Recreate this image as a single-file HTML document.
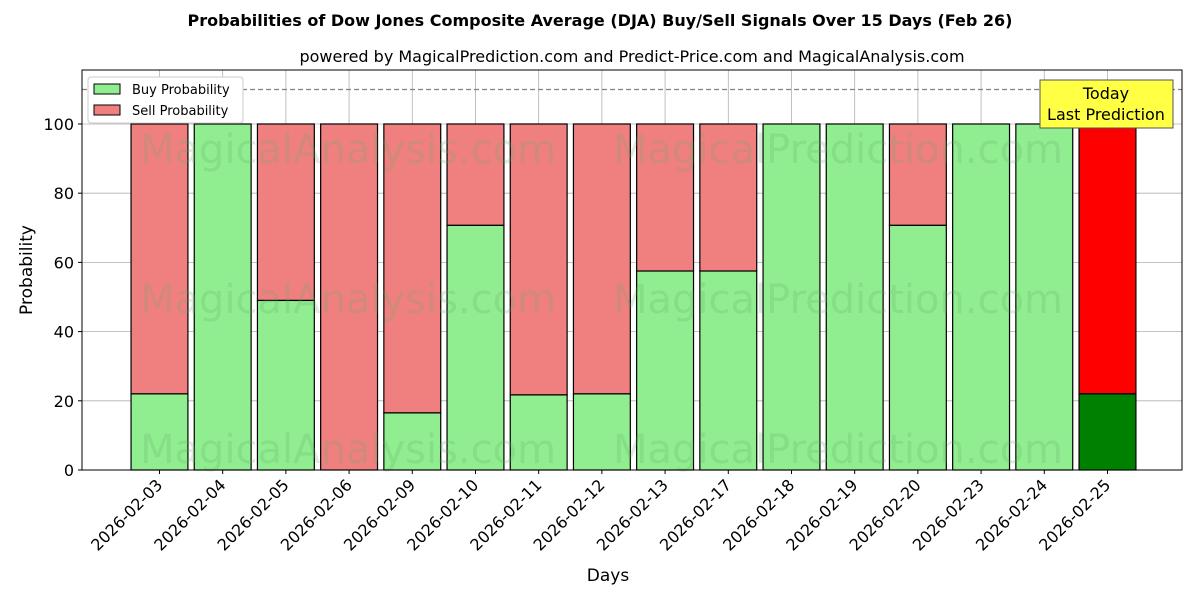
<!DOCTYPE html>
<html><head><meta charset="utf-8"><style>
body{margin:0;background:#fff;}
svg text{font-family:"DejaVu Sans","Liberation Sans",sans-serif;}
</style></head><body>
<svg id="chart" width="1200" height="600" xmlns="http://www.w3.org/2000/svg">
<text x="600" y="26" text-anchor="middle" font-size="16" font-weight="bold">Probabilities of Dow Jones Composite Average (DJA) Buy/Sell Signals Over 15 Days (Feb 26)</text>
<text x="632" y="62" text-anchor="middle" font-size="16">powered by MagicalPrediction.com and Predict-Price.com and MagicalAnalysis.com</text>
<g id="grid"></g>
<g id="bars"></g>
<g id="wm" fill="rgba(100,170,100,0.22)" font-size="40">
<text x="348" y="163" text-anchor="middle">MagicalAnalysis.com</text>
<text x="838" y="163" text-anchor="middle">MagicalPrediction.com</text>
<text x="348" y="313" text-anchor="middle">MagicalAnalysis.com</text>
<text x="838" y="313" text-anchor="middle">MagicalPrediction.com</text>
<text x="348" y="463" text-anchor="middle">MagicalAnalysis.com</text>
<text x="838" y="463" text-anchor="middle">MagicalPrediction.com</text>
</g>
<line x1="82" x2="1182" y1="89.5" y2="89.5" stroke="#808080" stroke-width="1.2" stroke-dasharray="5,3"/>
<rect x="82" y="70" width="1100" height="400" fill="none" stroke="#000" stroke-width="1"/>
<g id="axes"></g>
<text x="608" y="581" text-anchor="middle" font-size="17">Days</text>
<text transform="translate(32,270) rotate(-90)" text-anchor="middle" font-size="17">Probability</text>
<g>
<rect x="88" y="77" width="155" height="46" fill="#fff" stroke="#ccc" rx="3"/>
<rect x="94" y="84" width="26" height="10" fill="#90ee90" stroke="#000"/>
<text x="132" y="94" font-size="13">Buy Probability</text>
<rect x="94" y="105" width="26" height="10" fill="#f08080" stroke="#000"/>
<text x="132" y="115" font-size="13">Sell Probability</text>
</g>
<g>
<rect x="1040" y="80" width="133" height="48" fill="#ffff44" stroke="#555"/>
<text x="1106" y="99" text-anchor="middle" font-size="16">Today</text>
<text x="1106" y="120" text-anchor="middle" font-size="16">Last Prediction</text>
</g>
</svg>
<script>
const categories=["2026-02-03","2026-02-04","2026-02-05","2026-02-06","2026-02-09","2026-02-10","2026-02-11","2026-02-12","2026-02-13","2026-02-17","2026-02-18","2026-02-19","2026-02-20","2026-02-23","2026-02-24","2026-02-25"];
const buyValues=[22,100,49,0,16.5,70.7,21.7,22,57.5,57.5,100,100,70.7,100,100,22];
const yTicks=[0,20,40,60,80,100];
const NS="http://www.w3.org/2000/svg";
const L=82,R=1182,T=70,B=470,xmin=-1.226,xmax=16.179,ymax=115.6;
const xs=i=>L+(i-xmin)/(xmax-xmin)*(R-L);
const ys=v=>B-v/ymax*(B-T);
const bw=0.9*(R-L)/(xmax-xmin);
function mk(tag,attrs,parent){const e=document.createElementNS(NS,tag);for(const k in attrs)e.setAttribute(k,attrs[k]);document.getElementById(parent).appendChild(e);return e;}
yTicks.forEach(v=>{
 const g=mk('line',{x1:L,x2:R,y1:ys(v),y2:ys(v),stroke:'#b0b0b0','stroke-width':0.8},'grid');
 
 
 const t=mk('line',{x1:L-4,x2:L,y1:ys(v),y2:ys(v),stroke:'#000'},'axes');
 
 
 const lb=mk('text',{x:L-8,y:ys(v)+6,'text-anchor':'end','font-size':16},'axes');
 lb.textContent=v;
 
 
});
categories.forEach((c,i)=>{
 const x=xs(i),last=i===categories.length-1;
 const g=mk('line',{x1:x,x2:x,y1:T,y2:B,stroke:'#b0b0b0','stroke-width':0.8},'grid');
 
 
 const b=buyValues[i];
 const s=mk('rect',{x:x-bw/2,y:ys(100),width:bw,height:ys(b)-ys(100),fill:last?'#ff0000':'#f08080',stroke:'#000','stroke-width':1.2},'bars');
 
 
 const r=mk('rect',{x:x-bw/2,y:ys(b),width:bw,height:B-ys(b),fill:last?'#008000':'#90ee90',stroke:'#000','stroke-width':1.2},'bars');
 
 
 const t=mk('line',{x1:x,x2:x,y1:B,y2:B+4,stroke:'#000'},'axes');
 
 
 const lb=mk('text',{x:x+4,y:B+16,'text-anchor':'end','font-size':16,transform:`rotate(-45 ${x+4} ${B+16})`},'axes');
 lb.textContent=c;
 
 
});
</script>
</body></html>
